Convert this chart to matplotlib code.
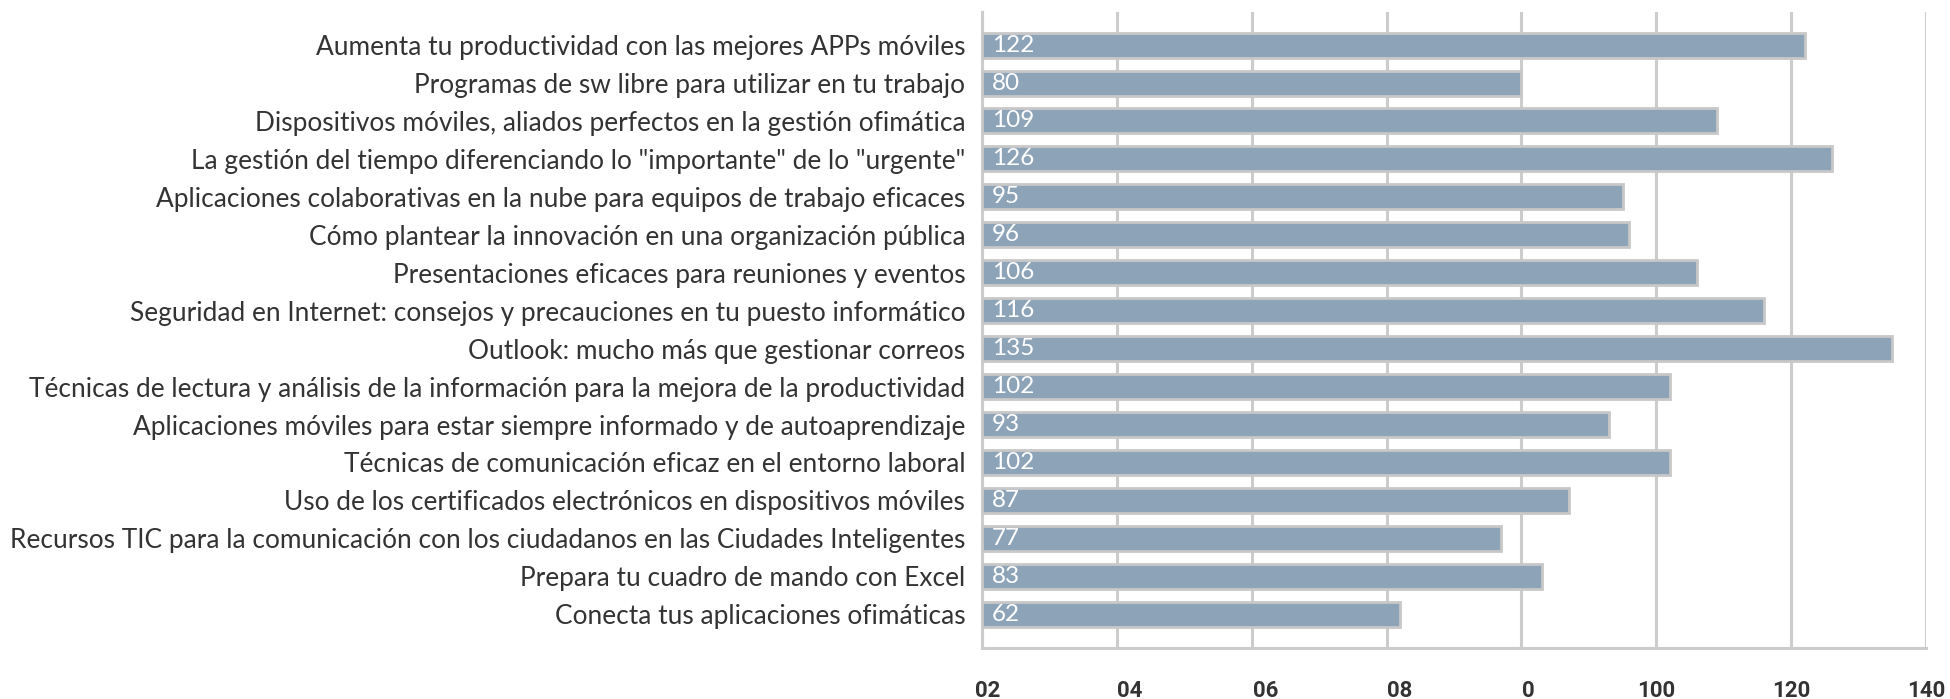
import matplotlib
matplotlib.use("Agg")
import matplotlib.pyplot as plt
import matplotlib.transforms as mtransforms

categories = [
    "Aumenta tu productividad con las mejores APPs móviles",
    "Programas de sw libre para utilizar en tu trabajo",
    "Dispositivos móviles, aliados perfectos en la gestión ofimática",
    "La gestión del tiempo diferenciando lo \"importante\" de lo \"urgente\"",
    "Aplicaciones colaborativas en la nube para equipos de trabajo eficaces",
    "Cómo plantear la innovación en una organización pública",
    "Presentaciones eficaces para reuniones y eventos",
    "Seguridad en Internet: consejos y precauciones en tu puesto informático",
    "Outlook: mucho más que gestionar correos",
    "Técnicas de lectura y análisis de la información para la mejora de la productividad",
    "Aplicaciones móviles para estar siempre informado y de autoaprendizaje",
    "Técnicas de comunicación eficaz en el entorno laboral",
    "Uso de los certificados electrónicos en dispositivos móviles",
    "Recursos TIC para la comunicación con los ciudadanos en las Ciudades Inteligentes",
    "Prepara tu cuadro de mando con Excel",
    "Conecta tus aplicaciones ofimáticas",
]
values = [122, 80, 109, 126, 95, 96, 106, 116, 135, 102, 93, 102, 87, 77, 83, 62]
tick_values = [0, 20, 40, 60, 80, 100, 120, 140]
tick_labels = ["02", "04", "06", "08", "0", "100", "120", "140"]

W, H = 1950, 699
fig = plt.figure(figsize=(W / 100, H / 100), dpi=100)
left, right, top, bottom = 982, 1926, 11.7, 648
ax = fig.add_axes([left / W, 1 - bottom / H, (right - left) / W, (bottom - top) / H])

ypos = list(range(len(categories)))
ax.barh(ypos, values, height=0.66, color="#8CA3B8", edgecolor="#C8C8C8",
        linewidth=2.0, zorder=3)

ax.set_xlim(0, 140)
ax.set_ylim(15.89, -0.88)
ax.set_yticks(ypos)
ax.set_yticklabels(categories, fontsize=18.9, color="#333333", family="Lato")
ax.tick_params(axis="y", length=0, pad=12)

ax.set_xticks(tick_values)
ax.set_xticklabels(tick_labels, fontsize=16, fontweight="bold", color="#333333",
                   family="Roboto")
ax.tick_params(axis="x", length=0, pad=23)
offsets_px = [6, 13, 14, 13, 7, 0, 0, 0]
for lab, dx in zip(ax.get_xticklabels(), offsets_px):
    lab.set_transform(lab.get_transform() +
                      mtransforms.ScaledTranslation(dx / 100, 0, fig.dpi_scale_trans))

ax.grid(axis="x", color="#CCCCCC", linewidth=2.2, zorder=0)
ax.set_axisbelow(True)
for s in ["top", "right"]:
    ax.spines[s].set_visible(False)
for s in ["left", "bottom"]:
    ax.spines[s].set_color("#CCCCCC")
    ax.spines[s].set_linewidth(2.2)

for y, v in zip(ypos, values):
    ax.annotate(str(v), xy=(0, y), xytext=(7, 0), textcoords="offset points",
                ha="left", va="center", color="white", fontsize=17.5,
                family="Lato", zorder=4)

fig.savefig("out.png", dpi=100)
